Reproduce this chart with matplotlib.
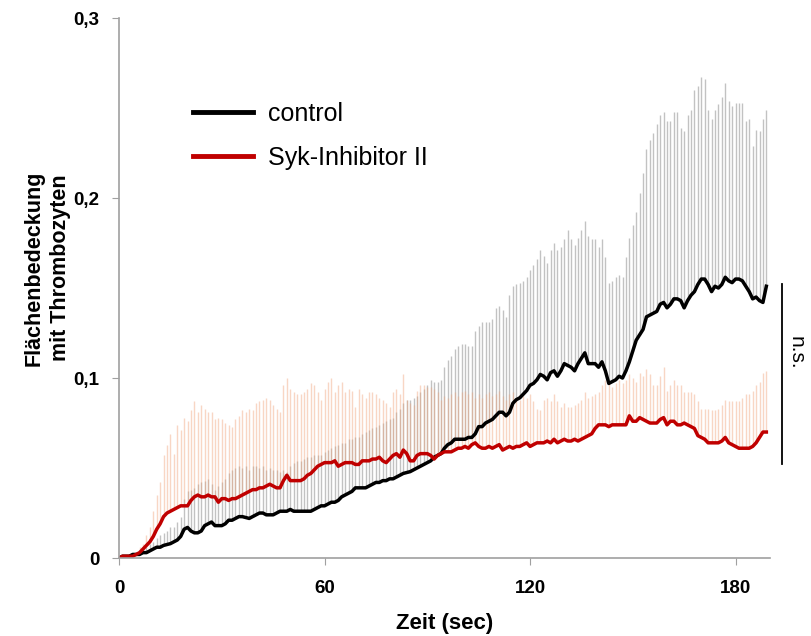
import numpy as np
import matplotlib
matplotlib.use("Agg")
import matplotlib.pyplot as plt

plt.rcParams['font.family'] = ['Liberation Sans', 'DejaVu Sans']

# time axis (sec), one sample per second
zeit = np.arange(0, 190)

# control: mean and upper end of error bar
ctrl_mean = [
    0.000, 0.001, 0.001, 0.001, 0.002, 0.002, 0.002, 0.003, 0.003, 0.004,
    0.005, 0.006, 0.006, 0.007, 0.0075, 0.008, 0.009, 0.010, 0.012, 0.016,
    0.017, 0.015, 0.014, 0.014, 0.015, 0.018, 0.019, 0.020, 0.018, 0.018,
    0.018, 0.019, 0.021, 0.021, 0.022, 0.023, 0.023, 0.0225, 0.022, 0.023,
    0.024, 0.025, 0.025, 0.024, 0.024, 0.024, 0.025, 0.026, 0.026, 0.026,
    0.027, 0.026, 0.026, 0.026, 0.026, 0.026, 0.026, 0.027, 0.028, 0.029,
    0.029, 0.030, 0.031, 0.031, 0.032, 0.034, 0.035, 0.036, 0.037, 0.039,
    0.039, 0.039, 0.039, 0.040, 0.041, 0.042, 0.042, 0.043, 0.043, 0.044,
    0.044, 0.045, 0.046, 0.047, 0.0475, 0.048, 0.049, 0.050, 0.051, 0.052,
    0.053, 0.054, 0.056, 0.057, 0.058, 0.061, 0.063, 0.064, 0.066, 0.066,
    0.066, 0.066, 0.067, 0.067, 0.069, 0.073, 0.073, 0.075, 0.076, 0.077,
    0.079, 0.081, 0.081, 0.079, 0.081, 0.086, 0.088, 0.089, 0.091, 0.093,
    0.096, 0.097, 0.099, 0.102, 0.101, 0.099, 0.103, 0.104, 0.101, 0.104,
    0.108, 0.107, 0.106, 0.104, 0.108, 0.111, 0.114, 0.108, 0.108, 0.108,
    0.106, 0.109, 0.104, 0.097, 0.098, 0.099, 0.101, 0.100, 0.104, 0.109,
    0.115, 0.121, 0.124, 0.127, 0.134, 0.135, 0.136, 0.137, 0.141, 0.142,
    0.139, 0.141, 0.144, 0.144, 0.143, 0.139, 0.143, 0.146, 0.148, 0.152,
    0.155, 0.155, 0.152, 0.148, 0.151, 0.150, 0.152, 0.156, 0.154, 0.153,
    0.155, 0.155, 0.154, 0.151, 0.148, 0.144, 0.145, 0.143, 0.142, 0.151,
]
ctrl_upper = [
    0.000, 0.001, 0.001, 0.002, 0.002, 0.003, 0.003, 0.005, 0.006, 0.008,
    0.009, 0.011, 0.013, 0.014, 0.015, 0.017, 0.017, 0.020, 0.023, 0.033,
    0.037, 0.038, 0.039, 0.041, 0.042, 0.043, 0.044, 0.041, 0.038, 0.040,
    0.042, 0.044, 0.047, 0.049, 0.050, 0.051, 0.050, 0.051, 0.049, 0.051,
    0.051, 0.050, 0.051, 0.049, 0.050, 0.049, 0.049, 0.048, 0.049, 0.048,
    0.051, 0.053, 0.054, 0.054, 0.055, 0.056, 0.056, 0.057, 0.057, 0.057,
    0.059, 0.060, 0.061, 0.062, 0.063, 0.064, 0.064, 0.066, 0.066, 0.067,
    0.067, 0.069, 0.070, 0.071, 0.072, 0.073, 0.074, 0.075, 0.076, 0.077,
    0.078, 0.081, 0.083, 0.086, 0.088, 0.088, 0.089, 0.090, 0.092, 0.094,
    0.096, 0.099, 0.098, 0.098, 0.099, 0.106, 0.110, 0.112, 0.116, 0.118,
    0.119, 0.119, 0.118, 0.118, 0.126, 0.129, 0.131, 0.131, 0.131, 0.133,
    0.139, 0.140, 0.138, 0.134, 0.146, 0.151, 0.152, 0.153, 0.154, 0.156,
    0.160, 0.163, 0.166, 0.171, 0.168, 0.164, 0.171, 0.175, 0.171, 0.173,
    0.177, 0.182, 0.177, 0.174, 0.178, 0.182, 0.187, 0.179, 0.177, 0.177,
    0.173, 0.177, 0.167, 0.153, 0.154, 0.156, 0.157, 0.156, 0.167, 0.178,
    0.185, 0.192, 0.203, 0.214, 0.227, 0.232, 0.236, 0.241, 0.246, 0.248,
    0.243, 0.243, 0.248, 0.248, 0.239, 0.237, 0.246, 0.249, 0.260, 0.262,
    0.267, 0.266, 0.249, 0.244, 0.249, 0.252, 0.256, 0.264, 0.254, 0.251,
    0.253, 0.253, 0.253, 0.243, 0.244, 0.229, 0.238, 0.237, 0.244, 0.249,
]

# Syk-Inhibitor II: mean and upper end of error bar
syk_mean = [
    0.000, 0.001, 0.001, 0.001, 0.001, 0.002, 0.003, 0.005, 0.007, 0.009,
    0.012, 0.016, 0.019, 0.023, 0.025, 0.026, 0.027, 0.028, 0.029, 0.029,
    0.029, 0.032, 0.034, 0.035, 0.034, 0.034, 0.035, 0.034, 0.034, 0.031,
    0.033, 0.033, 0.032, 0.033, 0.033, 0.034, 0.035, 0.036, 0.037, 0.038,
    0.038, 0.039, 0.039, 0.040, 0.041, 0.040, 0.039, 0.039, 0.043, 0.046,
    0.043, 0.043, 0.043, 0.043, 0.044, 0.046, 0.047, 0.049, 0.051, 0.052,
    0.053, 0.053, 0.053, 0.054, 0.051, 0.052, 0.053, 0.053, 0.053, 0.052,
    0.052, 0.054, 0.054, 0.054, 0.055, 0.055, 0.056, 0.054, 0.053, 0.055,
    0.057, 0.058, 0.056, 0.060, 0.058, 0.054, 0.054, 0.057, 0.058, 0.058,
    0.058, 0.057, 0.055, 0.057, 0.058, 0.059, 0.059, 0.059, 0.060, 0.061,
    0.061, 0.062, 0.061, 0.063, 0.064, 0.062, 0.061, 0.061, 0.062, 0.061,
    0.062, 0.063, 0.060, 0.061, 0.062, 0.061, 0.062, 0.062, 0.063, 0.064,
    0.062, 0.063, 0.064, 0.064, 0.064, 0.065, 0.064, 0.066, 0.064, 0.065,
    0.066, 0.065, 0.065, 0.066, 0.065, 0.066, 0.067, 0.068, 0.069, 0.072,
    0.074, 0.074, 0.074, 0.073, 0.074, 0.074, 0.074, 0.074, 0.074, 0.079,
    0.076, 0.076, 0.078, 0.077, 0.076, 0.075, 0.075, 0.075, 0.077, 0.078,
    0.074, 0.076, 0.076, 0.074, 0.074, 0.075, 0.074, 0.073, 0.072, 0.068,
    0.067, 0.066, 0.064, 0.064, 0.064, 0.064, 0.065, 0.067, 0.064, 0.063,
    0.062, 0.061, 0.061, 0.061, 0.061, 0.062, 0.064, 0.067, 0.070, 0.070,
]
syk_upper = [
    0.000, 0.001, 0.001, 0.002, 0.002, 0.003, 0.006, 0.008, 0.013, 0.017,
    0.026, 0.035, 0.042, 0.057, 0.063, 0.069, 0.058, 0.074, 0.071, 0.078,
    0.076, 0.082, 0.087, 0.081, 0.085, 0.083, 0.081, 0.081, 0.077, 0.078,
    0.077, 0.075, 0.074, 0.073, 0.077, 0.079, 0.082, 0.081, 0.083, 0.082,
    0.086, 0.087, 0.088, 0.089, 0.088, 0.085, 0.083, 0.081, 0.096, 0.100,
    0.094, 0.092, 0.091, 0.091, 0.092, 0.094, 0.097, 0.096, 0.092, 0.088,
    0.094, 0.098, 0.100, 0.092, 0.096, 0.098, 0.092, 0.094, 0.093, 0.084,
    0.094, 0.091, 0.089, 0.092, 0.092, 0.091, 0.089, 0.088, 0.086, 0.084,
    0.092, 0.094, 0.091, 0.102, 0.088, 0.086, 0.085, 0.093, 0.096, 0.096,
    0.095, 0.095, 0.094, 0.092, 0.088, 0.090, 0.089, 0.091, 0.092, 0.090,
    0.092, 0.093, 0.091, 0.092, 0.089, 0.091, 0.089, 0.091, 0.092, 0.090,
    0.091, 0.093, 0.090, 0.088, 0.091, 0.092, 0.089, 0.088, 0.090, 0.089,
    0.091, 0.087, 0.083, 0.082, 0.088, 0.089, 0.087, 0.091, 0.087, 0.084,
    0.086, 0.084, 0.084, 0.085, 0.086, 0.088, 0.092, 0.089, 0.090, 0.091,
    0.092, 0.096, 0.099, 0.097, 0.095, 0.097, 0.099, 0.097, 0.099, 0.102,
    0.100, 0.098, 0.103, 0.101, 0.105, 0.102, 0.096, 0.096, 0.101, 0.106,
    0.093, 0.096, 0.099, 0.096, 0.096, 0.092, 0.092, 0.092, 0.091, 0.087,
    0.083, 0.083, 0.083, 0.082, 0.082, 0.083, 0.085, 0.088, 0.087, 0.087,
    0.087, 0.087, 0.089, 0.091, 0.091, 0.093, 0.096, 0.098, 0.103, 0.104,
]

x_ticks = [0, 60, 120, 180]
y_ticks = [0, 0.1, 0.2, 0.3]
y_ticklabels = ['0', '0,1', '0,2', '0,3']

ctrl_mean = np.array(ctrl_mean)
ctrl_upper = np.array(ctrl_upper)
syk_mean = np.array(syk_mean)
syk_upper = np.array(syk_upper)

# only the upper half of the error bar is shown
ctrl_err = np.clip(ctrl_upper - ctrl_mean, 0, None)
syk_err = np.clip(syk_upper - syk_mean, 0, None)

fig = plt.figure(figsize=(8.12, 6.36), dpi=100)
ax = fig.add_axes([0.1466, 0.1226, 0.8014, 0.849])

ax.errorbar(zeit, ctrl_mean, yerr=[np.zeros_like(ctrl_err), ctrl_err],
            fmt='none', ecolor='#9a9a9a', elinewidth=1.0, alpha=0.6, capsize=0)
ax.errorbar(zeit, syk_mean, yerr=[np.zeros_like(syk_err), syk_err],
            fmt='none', ecolor='#f0a67e', elinewidth=1.0, alpha=0.45, capsize=0)

ax.plot(zeit, ctrl_mean, color='black', lw=2.5, label='control')
ax.plot(zeit, syk_mean, color='#c00000', lw=2.5, label='Syk-Inhibitor II')

ax.set_xlim(0, 190)
ax.set_ylim(0, 0.3)
ax.set_xticks(x_ticks)
ax.set_xticklabels([str(t) for t in x_ticks], fontweight='bold', fontsize=13.5)
ax.set_yticks(y_ticks)
ax.set_yticklabels(y_ticklabels, fontweight='bold', fontsize=13.5)
ax.tick_params(axis='x', length=5, color='#a0a0a0', pad=11)
ax.tick_params(axis='y', length=5, color='#a0a0a0', pad=9)

for side in ['top', 'right']:
    ax.spines[side].set_visible(False)
for side in ['left', 'bottom']:
    ax.spines[side].set_color('#a0a0a0')
    ax.spines[side].set_linewidth(1.2)

ax.set_xlabel('Zeit (sec)', fontweight='bold', fontsize=16, labelpad=11)
ax.set_ylabel('Flächenbedeckung\nmit Thrombozyten', fontweight='bold', fontsize=15.5,
              linespacing=1.3)
ax.yaxis.set_label_coords(-0.074, 0.537)

leg = ax.legend(loc='upper left', bbox_to_anchor=(0.114, 0.845), frameon=False,
                borderaxespad=0, borderpad=0,
                fontsize=18, handlelength=2.4, handletextpad=0.6, labelspacing=0.8)
for line in leg.get_lines():
    line.set_linewidth(3.5)

# significance marker
ax.plot([193.7, 193.7], [0.152, 0.052], color='black', lw=1.3, clip_on=False)
ax.text(197.8, 0.114, 'n.s.', rotation=270, fontsize=15, ha='center', va='center',
        clip_on=False)

fig.savefig('out.png', dpi=100)
